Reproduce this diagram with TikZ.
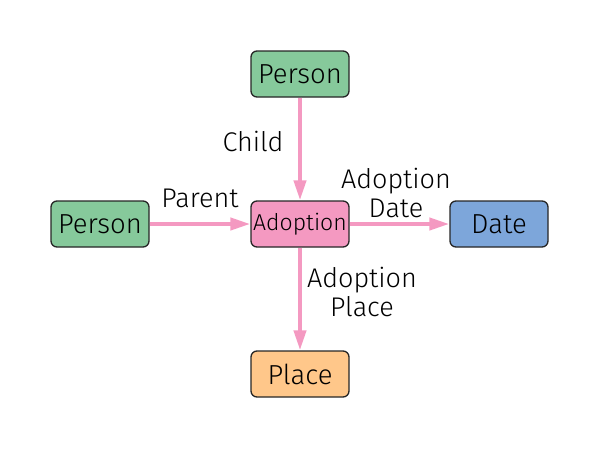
\documentclass[tikz,border=0pt]{standalone}
\usepackage{fontspec}
\setmainfont{Fira Sans}[UprightFont=* Light]
\usetikzlibrary{arrows.meta}
\definecolor{cgreen}{RGB}{134,201,155}
\definecolor{cpink}{RGB}{244,153,193}
\definecolor{cblue}{RGB}{125,166,218}
\definecolor{corange}{RGB}{255,199,138}
\tikzset{
  ent/.style={draw=black!85, line width=1.3pt, rounded corners=6pt, minimum width=98pt, minimum height=46pt, inner sep=0pt, font=\fontsize{27.5}{30}\selectfont},
  rel/.style={draw=cpink, line width=4pt, -{Triangle[length=20pt,width=12pt]}},
  lbl/.style={font=\fontsize{27}{29}\selectfont, align=center, inner sep=0pt}
}
\begin{document}
\begin{tikzpicture}[x=1pt,y=-1pt]
\useasboundingbox (0,0) rectangle (600,450);
\node[ent, fill=cgreen] (p1) at (300,74) {Person};
\node[ent, fill=cgreen] (p2) at (100,224) {Person};
\node[ent, fill=cpink, font=\fontsize{23}{24}\selectfont] (ad) at (300,224) {Adoption};
\node[ent, fill=cblue] (dt) at (499,224) {Date};
\node[ent, fill=corange] (pl) at (300,374) {Place};
\draw[rel] (p1) -- (ad);
\draw[rel] (p2) -- (ad);
\draw[rel] (ad) -- (dt);
\draw[rel] (ad) -- (pl);
\node[lbl] (l1) at (253,141) {Child};
\node[lbl] (l2) at (200,198) {Parent};
\node[lbl] (l3) at (396,193) {Adoption\\Date};
\node[lbl] (l4) at (362,292) {Adoption\\Place};
\end{tikzpicture}
\end{document}
